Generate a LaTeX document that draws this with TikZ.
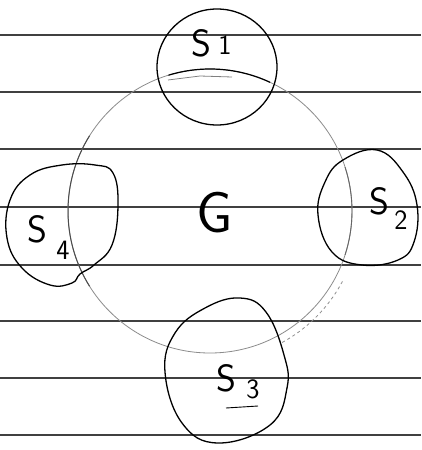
\documentclass[tikz,border=0pt]{standalone}
\begin{document}
\begin{tikzpicture}[x=1pt,y=-1pt,
  rule/.style={black!75,line width=1.1pt},
  blob/.style={black,line width=1.3pt},
  gcirc/.style={black!45,line width=0.8pt},
  lbl/.style={inner sep=0pt,font=\sffamily\fontsize{38}{38}\selectfont},
  sub/.style={inner sep=0pt,font=\sffamily\fontsize{28}{28}\selectfont},
  glbl/.style={inner sep=0pt,font=\sffamily\fontsize{58}{58}\selectfont}]
\useasboundingbox (0,0) rectangle (421,450);
\fill[white] (0,0) rectangle (421,450);
% ruled paper lines
\foreach \yy in {35,92,149,207,265,321,378,435}
  \draw[rule] (0,\yy) -- (421,\yy);
% big set G
\coordinate (gc) at (210,211);
\draw[gcirc] (gc) circle[radius=142];
\draw[black,line width=1.2pt] ([shift={(-107:142)}]gc) arc[start angle=-107,end angle=-65,radius=142];
\draw[gray,line width=0.8pt] (168,80) -- (200,76) -- (232,77);
\draw[black!70,line width=1pt] ([shift={(148:142)}]gc) arc[start angle=148,end angle=212,radius=142];
\draw[black!60,line width=0.9pt] ([shift={(-18:142)}]gc) arc[start angle=-18,end angle=18,radius=142];
\draw[gcirc,dashed] ([shift={(28:150)}]gc) arc[start angle=28,end angle=62,radius=150];
% S1
\draw[blob] (217,67) ellipse[x radius=60,y radius=58];
% S2
\draw[blob] plot[smooth cycle,tension=0.7] coordinates {(343,160) (377,150) (403,172) (417,205) (414,242) (398,260) (362,265) (332,252) (318,215) (325,182)};
% S3
\draw[blob] plot[smooth cycle,tension=0.7] coordinates {(240,298) (266,312) (284,355) (287,388) (270,425) (218,443) (182,423) (165,372) (175,333) (205,308)};
% S4
\draw[blob] plot[smooth cycle,tension=0.7] coordinates {(62,165) (95,165) (113,173) (118,205) (112,245) (94,265) (80,274) (72,283) (50,285) (22,268) (7,238) (10,200) (30,175)};
% labels
\node[lbl] (s1) at (201,43) {S};
\node[sub] (n1) at (225,45) {1};
\node[lbl] (s2) at (379,201) {S};
\node[sub] (n2) at (401,220) {2};
\node[lbl] (s3) at (226,378) {S};
\node[sub] (n3) at (253,389) {3};
\node[lbl] (s4) at (37,229) {S};
\node[sub] (n4) at (63,250) {4};
\node[glbl] (g) at (215,213) {G};
\draw[black,line width=0.9pt] (226,408) -- (258,406);
\end{tikzpicture}
\end{document}
